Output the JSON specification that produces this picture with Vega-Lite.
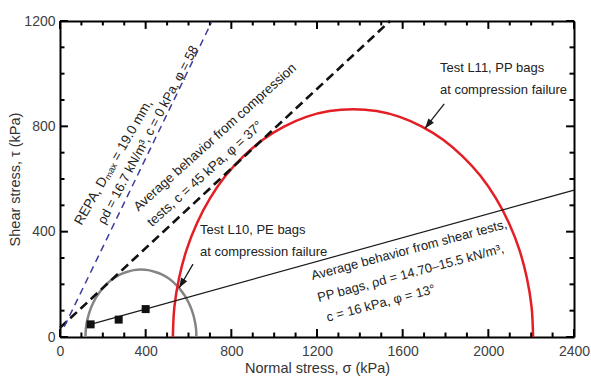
{
  "$schema": "https://vega.github.io/schema/vega-lite/v6.json",
  "width": 514,
  "height": 316,
  "autosize": "none",
  "padding": {"left": 60, "top": 21, "right": 17, "bottom": 41},
  "config": {
    "view": {"stroke": null},
    "font": "Liberation Sans",
    "axis": {"grid": false, "domainColor": "black", "domainWidth": 2}
  },
  "datasets": {
    "arcs": [
      {"curve": "L11", "i": 0, "sigma": 2209, "tau": 0},
      {"curve": "L11", "i": 1, "sigma": 2202, "tau": 113},
      {"curve": "L11", "i": 2, "sigma": 2180, "tau": 224},
      {"curve": "L11", "i": 3, "sigma": 2145, "tau": 331},
      {"curve": "L11", "i": 4, "sigma": 2096, "tau": 433},
      {"curve": "L11", "i": 5, "sigma": 2035, "tau": 527},
      {"curve": "L11", "i": 6, "sigma": 1963, "tau": 612},
      {"curve": "L11", "i": 7, "sigma": 1880, "tau": 686},
      {"curve": "L11", "i": 8, "sigma": 1789, "tau": 749},
      {"curve": "L11", "i": 9, "sigma": 1690, "tau": 799},
      {"curve": "L11", "i": 10, "sigma": 1586, "tau": 836},
      {"curve": "L11", "i": 11, "sigma": 1478, "tau": 858},
      {"curve": "L11", "i": 12, "sigma": 1368, "tau": 865},
      {"curve": "L11", "i": 13, "sigma": 1258, "tau": 858},
      {"curve": "L11", "i": 14, "sigma": 1150, "tau": 836},
      {"curve": "L11", "i": 15, "sigma": 1046, "tau": 799},
      {"curve": "L11", "i": 16, "sigma": 947, "tau": 749},
      {"curve": "L11", "i": 17, "sigma": 856, "tau": 686},
      {"curve": "L11", "i": 18, "sigma": 773, "tau": 612},
      {"curve": "L11", "i": 19, "sigma": 701, "tau": 527},
      {"curve": "L11", "i": 20, "sigma": 640, "tau": 433},
      {"curve": "L11", "i": 21, "sigma": 591, "tau": 331},
      {"curve": "L11", "i": 22, "sigma": 556, "tau": 224},
      {"curve": "L11", "i": 23, "sigma": 534, "tau": 113},
      {"curve": "L11", "i": 24, "sigma": 527, "tau": 0},
      {"curve": "L10", "i": 0, "sigma": 637, "tau": 0},
      {"curve": "L10", "i": 1, "sigma": 635, "tau": 33},
      {"curve": "L10", "i": 2, "sigma": 628, "tau": 66},
      {"curve": "L10", "i": 3, "sigma": 617, "tau": 98},
      {"curve": "L10", "i": 4, "sigma": 602, "tau": 128},
      {"curve": "L10", "i": 5, "sigma": 583, "tau": 156},
      {"curve": "L10", "i": 6, "sigma": 561, "tau": 181},
      {"curve": "L10", "i": 7, "sigma": 536, "tau": 203},
      {"curve": "L10", "i": 8, "sigma": 508, "tau": 222},
      {"curve": "L10", "i": 9, "sigma": 477, "tau": 237},
      {"curve": "L10", "i": 10, "sigma": 445, "tau": 247},
      {"curve": "L10", "i": 11, "sigma": 412, "tau": 254},
      {"curve": "L10", "i": 12, "sigma": 378, "tau": 256},
      {"curve": "L10", "i": 13, "sigma": 344, "tau": 254},
      {"curve": "L10", "i": 14, "sigma": 311, "tau": 247},
      {"curve": "L10", "i": 15, "sigma": 279, "tau": 237},
      {"curve": "L10", "i": 16, "sigma": 249, "tau": 222},
      {"curve": "L10", "i": 17, "sigma": 220, "tau": 203},
      {"curve": "L10", "i": 18, "sigma": 195, "tau": 181},
      {"curve": "L10", "i": 19, "sigma": 173, "tau": 156},
      {"curve": "L10", "i": 20, "sigma": 154, "tau": 128},
      {"curve": "L10", "i": 21, "sigma": 139, "tau": 98},
      {"curve": "L10", "i": 22, "sigma": 128, "tau": 66},
      {"curve": "L10", "i": 23, "sigma": 121, "tau": 33},
      {"curve": "L10", "i": 24, "sigma": 119, "tau": 0}
    ],
    "lines": [
      {"line": "shear", "sigma": 143, "tau": 48},
      {"line": "shear", "sigma": 2400, "tau": 558},
      {"line": "compression", "sigma": 0, "tau": 35},
      {"line": "compression", "sigma": 1541, "tau": 1200},
      {"line": "repa", "sigma": 20, "tau": 39},
      {"line": "repa", "sigma": 706, "tau": 1193},
      {"line": "arrowA", "sigma": 1794, "tau": 885},
      {"line": "arrowA", "sigma": 1704, "tau": 792},
      {"line": "arrowB", "sigma": 621, "tau": 277},
      {"line": "arrowB", "sigma": 556, "tau": 186}
    ],
    "tests": [
      {"sigma": 143, "tau": 48},
      {"sigma": 274, "tau": 66},
      {"sigma": 400, "tau": 106}
    ],
    "labels": [
      {"group": "repa1", "text": "REPA, Dₘₐₓ = 19.0 mm,", "sigma": 250, "tau": 663},
      {"group": "repa2", "text": "ρd = 16.7 kN/m³, c = 0 kPa, φ = 58", "sigma": 411, "tau": 767},
      {"group": "comp", "text": "Average behavior from compression", "sigma": 724, "tau": 758},
      {"group": "comp", "text": "tests, c = 45 kPa, φ = 37°", "sigma": 677, "tau": 619},
      {"group": "test", "text": "Test L10, PE bags", "sigma": 654, "tau": 390},
      {"group": "test", "text": "at compression failure", "sigma": 654, "tau": 308},
      {"group": "test", "text": "Test L11, PP bags", "sigma": 1774, "tau": 1007},
      {"group": "test", "text": "at compression failure", "sigma": 1774, "tau": 922},
      {"group": "shear", "text": "Average behavior from shear tests,", "sigma": 1630, "tau": 330},
      {"group": "shear", "text": "PP bags, ρd = 14.70–15.5 kN/m³,", "sigma": 1638, "tau": 242},
      {"group": "shear", "text": "c = 16 kPa, φ = 13°", "sigma": 1498, "tau": 128}
    ],
    "xticks": [
      {"v": 0}, {"v": 100}, {"v": 200}, {"v": 300}, {"v": 400}, {"v": 500}, {"v": 600}, {"v": 700}, {"v": 800}, {"v": 900},
      {"v": 1000}, {"v": 1100}, {"v": 1200}, {"v": 1300}, {"v": 1400}, {"v": 1500}, {"v": 1600}, {"v": 1700}, {"v": 1800}, {"v": 1900},
      {"v": 2000}, {"v": 2100}, {"v": 2200}, {"v": 2300}, {"v": 2400}
    ],
    "yticks": [
      {"v": 0}, {"v": 100}, {"v": 200}, {"v": 300}, {"v": 400}, {"v": 500}, {"v": 600}, {"v": 700}, {"v": 800}, {"v": 900},
      {"v": 1000}, {"v": 1100}, {"v": 1200}
    ]
  },
  "resolve": {"axis": {"x": "independent", "y": "independent"}},
  "layer": [
    {
      "data": {"name": "arcs"},
      "transform": [{"filter": "datum.curve === 'L10'"}],
      "mark": {"type": "line", "color": "#858585", "strokeWidth": 2.5, "interpolate": "catmull-rom"},
      "encoding": {
        "x": {
          "field": "sigma", "type": "quantitative",
          "scale": {"domain": [0, 2400], "nice": false, "zero": false},
          "axis": {
            "orient": "bottom",
            "values": [0, 400, 800, 1200, 1600, 2000, 2400],
            "format": "d",
            "title": "Normal stress, σ (kPa)",
            "ticks": false,
            "labelPadding": 7,
            "labelFontSize": 14, "labelColor": "#404040",
            "labelFlush": false, "labelOverlap": false,
            "titleFontSize": 14.5, "titleFontWeight": "normal", "titleColor": "#333333",
            "titlePadding": 3
          }
        },
        "y": {
          "field": "tau", "type": "quantitative",
          "scale": {"domain": [0, 1200], "nice": false, "zero": false},
          "axis": {
            "orient": "left",
            "values": [0, 400, 800, 1200],
            "format": "d",
            "title": "Shear stress, τ (kPa)",
            "ticks": false,
            "labelPadding": 5,
            "labelFontSize": 14, "labelColor": "#404040",
            "labelFlush": false, "labelOverlap": false,
            "titleFontSize": 14.5, "titleFontWeight": "normal", "titleColor": "#333333",
            "titlePadding": 1
          }
        },
        "order": {"field": "i", "type": "quantitative"}
      }
    },
    {
      "data": {"name": "arcs"},
      "transform": [{"filter": "datum.curve === 'L11'"}],
      "mark": {"type": "line", "color": "#e31e24", "strokeWidth": 2.5, "interpolate": "catmull-rom"},
      "encoding": {
        "x": {
          "field": "sigma", "type": "quantitative",
          "axis": {"orient": "top", "values": [0], "labels": false, "title": null, "ticks": false}
        },
        "y": {
          "field": "tau", "type": "quantitative",
          "axis": {"orient": "right", "values": [0], "labels": false, "title": null, "ticks": false}
        },
        "order": {"field": "i", "type": "quantitative"}
      }
    },
    {
      "data": {"name": "xticks"},
      "transform": [{"filter": "datum.v % 400 === 0"}],
      "mark": {"type": "rule", "color": "black", "strokeWidth": 2, "opacity": 1},
      "encoding": {
        "x": {"field": "v", "type": "quantitative", "axis": null},
        "y": {"datum": 0, "type": "quantitative", "axis": null},
        "y2": {"datum": 30}
      }
    },
    {
      "data": {"name": "xticks"},
      "transform": [{"filter": "datum.v % 400 !== 0"}],
      "mark": {"type": "rule", "color": "black", "strokeWidth": 2, "opacity": 1},
      "encoding": {
        "x": {"field": "v", "type": "quantitative", "axis": null},
        "y": {"datum": 0, "type": "quantitative", "axis": null},
        "y2": {"datum": 17}
      }
    },
    {
      "data": {"name": "xticks"},
      "transform": [{"filter": "datum.v % 400 === 0"}],
      "mark": {"type": "rule", "color": "black", "strokeWidth": 2, "opacity": 1},
      "encoding": {
        "x": {"field": "v", "type": "quantitative", "axis": null},
        "y": {"datum": 1200, "type": "quantitative", "axis": null},
        "y2": {"datum": 1170}
      }
    },
    {
      "data": {"name": "xticks"},
      "transform": [{"filter": "datum.v % 400 !== 0"}],
      "mark": {"type": "rule", "color": "black", "strokeWidth": 2, "opacity": 1},
      "encoding": {
        "x": {"field": "v", "type": "quantitative", "axis": null},
        "y": {"datum": 1200, "type": "quantitative", "axis": null},
        "y2": {"datum": 1183}
      }
    },
    {
      "data": {"name": "yticks"},
      "transform": [{"filter": "datum.v % 400 === 0"}],
      "mark": {"type": "rule", "color": "black", "strokeWidth": 2, "opacity": 1},
      "encoding": {
        "y": {"field": "v", "type": "quantitative", "axis": null},
        "x": {"datum": 0, "type": "quantitative", "axis": null},
        "x2": {"datum": 37}
      }
    },
    {
      "data": {"name": "yticks"},
      "transform": [{"filter": "datum.v % 400 !== 0"}],
      "mark": {"type": "rule", "color": "black", "strokeWidth": 2, "opacity": 1},
      "encoding": {
        "y": {"field": "v", "type": "quantitative", "axis": null},
        "x": {"datum": 0, "type": "quantitative", "axis": null},
        "x2": {"datum": 21}
      }
    },
    {
      "data": {"name": "yticks"},
      "transform": [{"filter": "datum.v % 400 === 0"}],
      "mark": {"type": "rule", "color": "black", "strokeWidth": 2, "opacity": 1},
      "encoding": {
        "y": {"field": "v", "type": "quantitative", "axis": null},
        "x": {"datum": 2400, "type": "quantitative", "axis": null},
        "x2": {"datum": 2363}
      }
    },
    {
      "data": {"name": "yticks"},
      "transform": [{"filter": "datum.v % 400 !== 0"}],
      "mark": {"type": "rule", "color": "black", "strokeWidth": 2, "opacity": 1},
      "encoding": {
        "y": {"field": "v", "type": "quantitative", "axis": null},
        "x": {"datum": 2400, "type": "quantitative", "axis": null},
        "x2": {"datum": 2379}
      }
    },
    {
      "data": {"name": "lines"},
      "transform": [{"filter": "datum.line === 'shear'"}],
      "mark": {"type": "line", "color": "#1a1a1a", "strokeWidth": 1.2},
      "encoding": {
        "x": {"field": "sigma", "type": "quantitative", "axis": null},
        "y": {"field": "tau", "type": "quantitative", "axis": null}
      }
    },
    {
      "data": {"name": "lines"},
      "transform": [{"filter": "datum.line === 'compression'"}],
      "mark": {"type": "line", "color": "#111111", "strokeWidth": 2.6, "strokeDash": [9, 5]},
      "encoding": {
        "x": {"field": "sigma", "type": "quantitative", "axis": null},
        "y": {"field": "tau", "type": "quantitative", "axis": null}
      }
    },
    {
      "data": {"name": "lines"},
      "transform": [{"filter": "datum.line === 'repa'"}],
      "mark": {"type": "line", "color": "#3c3c9c", "strokeWidth": 1.5, "strokeDash": [7, 5]},
      "encoding": {
        "x": {"field": "sigma", "type": "quantitative", "axis": null},
        "y": {"field": "tau", "type": "quantitative", "axis": null}
      }
    },
    {
      "data": {"name": "lines"},
      "transform": [{"filter": "datum.line === 'arrowA' || datum.line === 'arrowB'"}],
      "mark": {"type": "line", "color": "#1a1a1a", "strokeWidth": 1.3},
      "encoding": {
        "x": {"field": "sigma", "type": "quantitative", "axis": null},
        "y": {"field": "tau", "type": "quantitative", "axis": null},
        "detail": {"field": "line"}
      }
    },
    {
      "data": {"name": "lines"},
      "transform": [{"filter": "datum.line === 'arrowA'"}, {"filter": "datum.tau < 800"}],
      "mark": {"type": "point", "shape": "M0,0L-0.35,1L0.35,1Z", "size": 400, "filled": true, "color": "#1a1a1a", "opacity": 1, "angle": 218.5},
      "encoding": {
        "x": {"field": "sigma", "type": "quantitative", "axis": null},
        "y": {"field": "tau", "type": "quantitative", "axis": null}
      }
    },
    {
      "data": {"name": "lines"},
      "transform": [{"filter": "datum.line === 'arrowB'"}, {"filter": "datum.tau < 200"}],
      "mark": {"type": "point", "shape": "M0,0L-0.35,1L0.35,1Z", "size": 400, "filled": true, "color": "#1a1a1a", "opacity": 1, "angle": 210.3},
      "encoding": {
        "x": {"field": "sigma", "type": "quantitative", "axis": null},
        "y": {"field": "tau", "type": "quantitative", "axis": null}
      }
    },
    {
      "data": {"name": "tests"},
      "mark": {"type": "point", "shape": "square", "size": 64, "filled": true, "color": "#111111", "opacity": 1},
      "encoding": {
        "x": {"field": "sigma", "type": "quantitative", "axis": null},
        "y": {"field": "tau", "type": "quantitative", "axis": null}
      }
    },
    {
      "data": {"name": "labels"},
      "transform": [{"filter": "datum.group === 'repa1'"}],
      "mark": {"type": "text", "angle": -60, "align": "center", "baseline": "middle", "fontSize": 13.5, "color": "#222222"},
      "encoding": {
        "x": {"field": "sigma", "type": "quantitative", "axis": null},
        "y": {"field": "tau", "type": "quantitative", "axis": null},
        "text": {"field": "text"}
      }
    },
    {
      "data": {"name": "labels"},
      "transform": [{"filter": "datum.group === 'repa2'"}],
      "mark": {"type": "text", "angle": -62, "align": "center", "baseline": "middle", "fontSize": 13, "color": "#222222"},
      "encoding": {
        "x": {"field": "sigma", "type": "quantitative", "axis": null},
        "y": {"field": "tau", "type": "quantitative", "axis": null},
        "text": {"field": "text"}
      }
    },
    {
      "data": {"name": "labels"},
      "transform": [{"filter": "datum.group === 'comp'"}],
      "mark": {"type": "text", "angle": -42, "align": "center", "baseline": "middle", "fontSize": 13.3, "color": "#222222"},
      "encoding": {
        "x": {"field": "sigma", "type": "quantitative", "axis": null},
        "y": {"field": "tau", "type": "quantitative", "axis": null},
        "text": {"field": "text"}
      }
    },
    {
      "data": {"name": "labels"},
      "transform": [{"filter": "datum.group === 'test'"}],
      "mark": {"type": "text", "align": "left", "baseline": "alphabetic", "fontSize": 13, "color": "#222222"},
      "encoding": {
        "x": {"field": "sigma", "type": "quantitative", "axis": null},
        "y": {"field": "tau", "type": "quantitative", "axis": null},
        "text": {"field": "text"}
      }
    },
    {
      "data": {"name": "labels"},
      "transform": [{"filter": "datum.group === 'shear'"}],
      "mark": {"type": "text", "angle": -15, "align": "center", "baseline": "middle", "fontSize": 13, "color": "#222222"},
      "encoding": {
        "x": {"field": "sigma", "type": "quantitative", "axis": null},
        "y": {"field": "tau", "type": "quantitative", "axis": null},
        "text": {"field": "text"}
      }
    }
  ]
}
